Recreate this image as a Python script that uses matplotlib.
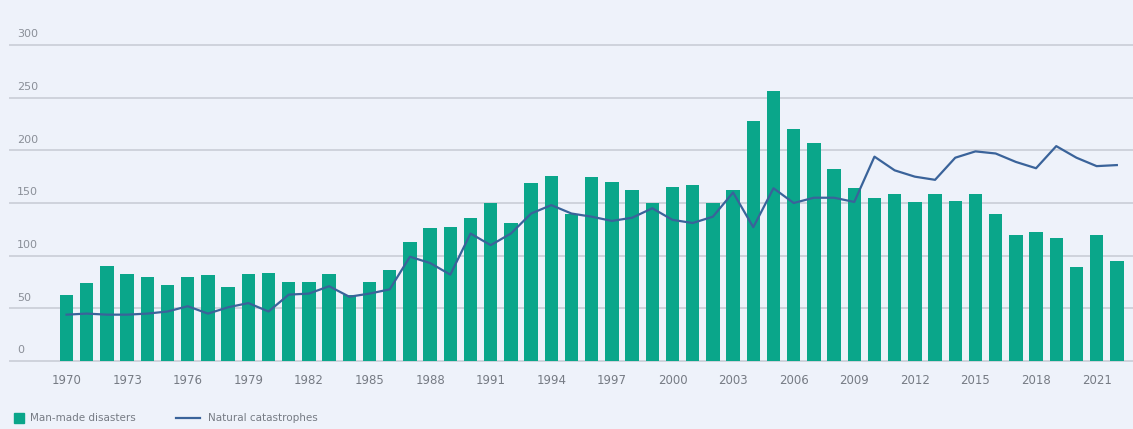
import matplotlib
matplotlib.use("Agg")
import matplotlib.pyplot as plt
from matplotlib.patches import Rectangle
from matplotlib.lines import Line2D

years = list(range(1970, 2023))
man_made = [63, 74, 90, 83, 80, 72, 80, 82, 70, 83, 84, 75, 75, 83, 63, 75, 86,
            113, 126, 127, 136, 150, 131, 169, 176, 140, 175, 170, 162, 150, 165,
            167, 150, 162, 228, 256, 220, 207, 182, 164, 155, 159, 151, 159, 152,
            159, 140, 120, 122, 117, 89, 120, 95]
natural = [44, 45, 44, 44, 45, 47, 52, 45, 51, 55, 47, 63, 64, 71, 61, 64, 68,
           99, 93, 82, 121, 110, 121, 140, 148, 140, 137, 133, 136, 145, 134,
           131, 137, 160, 127, 164, 150, 155, 155, 151, 194, 181, 175, 172, 193,
           199, 197, 189, 183, 204, 193, 185, 186]
y_ticks = [0, 50, 100, 150, 200, 250, 300]
x_ticks = list(range(1970, 2022, 3))

BG = "#eef2fa"
TEAL = "#0aa68a"
BLUE = "#3a639a"
GRID = "#cfd3dc"
TXT = "#8a8f98"

W, H = 1133, 429
fig = plt.figure(figsize=(W / 100, H / 100), dpi=100, facecolor=BG)
ax = fig.add_axes([10 / W, (H - 361) / H, (W - 10) / W, (361 - 45) / H], facecolor=BG)

ax.bar(years, man_made, width=0.66, color=TEAL, zorder=3)
ax.plot(years, natural, color=BLUE, lw=1.6, zorder=4)

ax.set_ylim(0, 300)
ax.set_xlim(1967.2, 2022.8)
for y in y_ticks:
    ax.axhline(y, color=GRID, lw=1.4, zorder=1, clip_on=False)
    ax.annotate(str(y), xy=(0, y), xycoords=("axes fraction", "data"),
                xytext=(5, 4), textcoords="offset points", ha="left", va="bottom",
                fontsize=8, color=TXT, annotation_clip=False)

ax.set_yticks([])
ax.set_xticks(x_ticks)
ax.set_xticklabels([str(x) for x in x_ticks], fontsize=8.5, color="#767b84")
ax.tick_params(axis="x", length=0, pad=9)
for s in ax.spines.values():
    s.set_visible(False)

# legend
fig.patches.append(Rectangle((14 / W, (H - 423) / H), 10 / W, 10 / H,
                             transform=fig.transFigure, color=TEAL))
fig.text(30 / W, (H - 418) / H, "Man-made disasters", fontsize=7.5, color="#767b84",
         va="center", ha="left")
fig.lines.append(Line2D([176 / W, 200 / W], [(H - 418) / H] * 2, transform=fig.transFigure,
                        color=BLUE, lw=1.6))
fig.text(208 / W, (H - 418) / H, "Natural catastrophes", fontsize=7.5, color="#767b84",
         va="center", ha="left")

fig.savefig("out.png", dpi=100, facecolor=BG)
